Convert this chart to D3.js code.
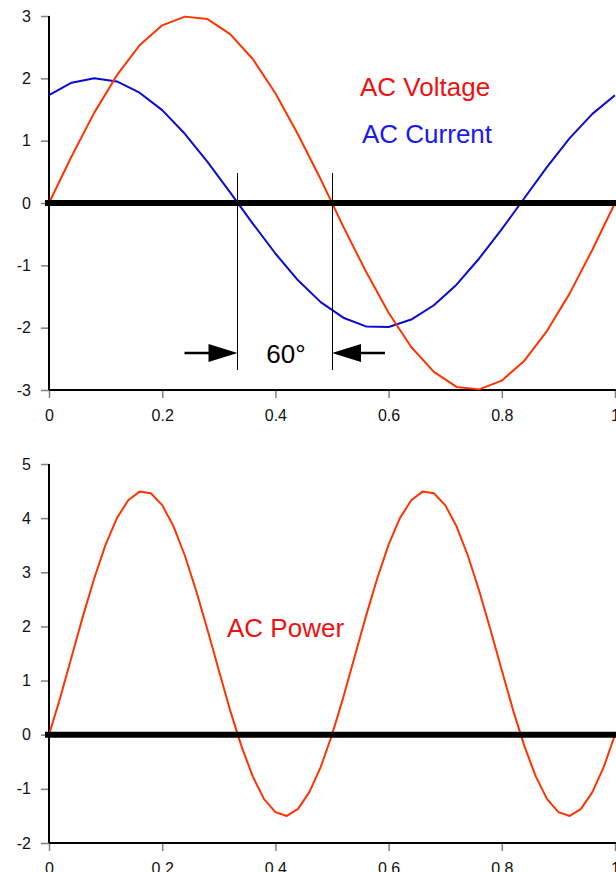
<!DOCTYPE html>
<html>
<head>
<meta charset="utf-8">
<script src="https://d3js.org/d3.v7.min.js"></script>
<style>
  body { margin: 0; background: #fff; }
  svg text { font-family: Arial, "Liberation Sans", sans-serif; }
</style>
</head>
<body>
<svg id="chart"></svg>
<script>
// time axis (fraction of a cycle)
const xs = [0, 0.04, 0.08, 0.12, 0.16, 0.2, 0.24, 0.28, 0.32, 0.36, 0.4, 0.44, 0.48,
            0.52, 0.56, 0.6, 0.64, 0.68, 0.72, 0.76, 0.8, 0.84, 0.88, 0.92, 0.96, 1];
const voltage = [0, 0.75, 1.45, 2.05, 2.53, 2.85, 2.99, 2.95, 2.71, 2.31, 1.76, 1.10, 0.38,
                 -0.38, -1.10, -1.76, -2.31, -2.71, -2.95, -2.99, -2.85, -2.53, -2.05, -1.45, -0.75, 0];
const current = [1.73, 1.93, 2.00, 1.95, 1.77, 1.49, 1.11, 0.66, 0.17, -0.33, -0.81, -1.24, -1.59,
                 -1.84, -1.98, -1.99, -1.87, -1.64, -1.31, -0.89, -0.42, 0.08, 0.58, 1.04, 1.43, 1.73];

const xsPower = d3.range(0, 51).map(i => +(i * 0.02).toFixed(2));
const power = [0, 0.69, 1.44, 2.19, 2.89, 3.51, 4.00, 4.33, 4.49, 4.46, 4.24, 3.85, 3.31,
               2.66, 1.94, 1.19, 0.45, -0.21, -0.77, -1.19, -1.43, -1.50, -1.37, -1.06, -0.60,
               0, 0.69, 1.44, 2.19, 2.89, 3.51, 4.00, 4.33, 4.49, 4.46, 4.24, 3.85, 3.31,
               2.66, 1.94, 1.19, 0.45, -0.21, -0.77, -1.19, -1.43, -1.50, -1.37, -1.06, -0.60, 0];

const xTicks = [0, 0.2, 0.4, 0.6, 0.8, 1];
const yTicksTop = [-3, -2, -1, 0, 1, 2, 3];
const yTicksBottom = [-2, -1, 0, 1, 2, 3, 4, 5];
const phaseMarks = [0.333, 0.5];   // current zero, voltage zero

const lineRed = "#ff3300", lineBlue = "#0a0ad0";

const svg = d3.select("#chart").attr("width", 616).attr("height", 872);

const x = d3.scaleLinear().domain([0, 1]).range([49, 615]);
const yTop = d3.scaleLinear().domain([-3, 3]).range([390, 16]);
const yBot = d3.scaleLinear().domain([-2, 5]).range([843, 464]);

function drawAxes(y, yTicks, bottomY) {
  const gy = svg.append("g").attr("transform", `translate(${x(0)},0)`)
    .call(d3.axisLeft(y).tickValues(yTicks).tickSize(8).tickPadding(10).tickFormat(d => d));
  const gx = svg.append("g").attr("transform", `translate(0,${bottomY})`)
    .call(d3.axisBottom(x).tickValues(xTicks).tickSize(8).tickPadding(12).tickFormat(d => d));
  [gx, gy].forEach(g => {
    g.select(".domain").remove();
    g.selectAll(".tick line").attr("stroke", "#808080").attr("stroke-width", 1.5);
    g.selectAll(".tick text").attr("fill", "#111").style("font-size", "16px")
      .style("font-family", "Arial, 'Liberation Sans', sans-serif");
  });
  // axis lines
  svg.append("line").attr("x1", x(0)).attr("x2", x(0))
    .attr("y1", y.range()[1]).attr("y2", bottomY)
    .attr("stroke", "#000").attr("stroke-width", 2);
  svg.append("line").attr("x1", x(0)).attr("x2", 616)
    .attr("y1", bottomY).attr("y2", bottomY)
    .attr("stroke", "#000").attr("stroke-width", 2);
}

function drawSeries(xv, yv, y, color) {
  const line = d3.line().x(d => x(d[0])).y(d => y(d[1]));
  svg.append("path").datum(xv.map((d, i) => [d, yv[i]]))
    .attr("d", line).attr("fill", "none")
    .attr("stroke", color).attr("stroke-width", 2).attr("stroke-linejoin", "round");
}

function zeroLine(y) {
  svg.append("line").attr("x1", x(0) - 4).attr("x2", 616)
    .attr("y1", y(0)).attr("y2", y(0))
    .attr("stroke", "#000").attr("stroke-width", 6);
}

// ---- top panel
drawAxes(yTop, yTicksTop, yTop(-3));
drawSeries(xs, current, yTop, lineBlue);
drawSeries(xs, voltage, yTop, lineRed);
zeroLine(yTop);

svg.selectAll(".mark").data(phaseMarks).enter().append("line")
  .attr("x1", d => Math.round(x(d)) + 0.5).attr("x2", d => Math.round(x(d)) + 0.5)
  .attr("y1", 173).attr("y2", 370)
  .attr("stroke", "#000").attr("stroke-width", 1);

// phase arrows
const ay = 353;
function arrow(tipX, dir) {
  // dir = +1 points right, -1 points left
  svg.append("line").attr("x1", tipX - dir * 53).attr("x2", tipX - dir * 26)
    .attr("y1", ay).attr("y2", ay).attr("stroke", "#000").attr("stroke-width", 2.5);
  svg.append("path")
    .attr("d", `M${tipX},${ay} L${tipX - dir * 29},${ay - 9} L${tipX - dir * 29},${ay + 9} Z`)
    .attr("fill", "#000");
}
arrow(x(phaseMarks[0]), 1);
arrow(x(phaseMarks[1]), -1);

svg.append("text").attr("x", 286).attr("y", 363).attr("text-anchor", "middle")
  .style("font-size", "26px").attr("fill", "#000").text("60°");
svg.append("text").attr("x", 360).attr("y", 96)
  .style("font-size", "26px").attr("fill", "#ee1111").text("AC Voltage");
svg.append("text").attr("x", 362).attr("y", 143)
  .style("font-size", "26px").attr("fill", "#1a1aee").text("AC Current");

// ---- bottom panel
drawAxes(yBot, yTicksBottom, yBot(-2));
drawSeries(xsPower, power, yBot, lineRed);
zeroLine(yBot);

svg.append("text").attr("x", 227).attr("y", 637)
  .style("font-size", "26px").attr("fill", "#ee1111").text("AC Power");
</script>
</body>
</html>
